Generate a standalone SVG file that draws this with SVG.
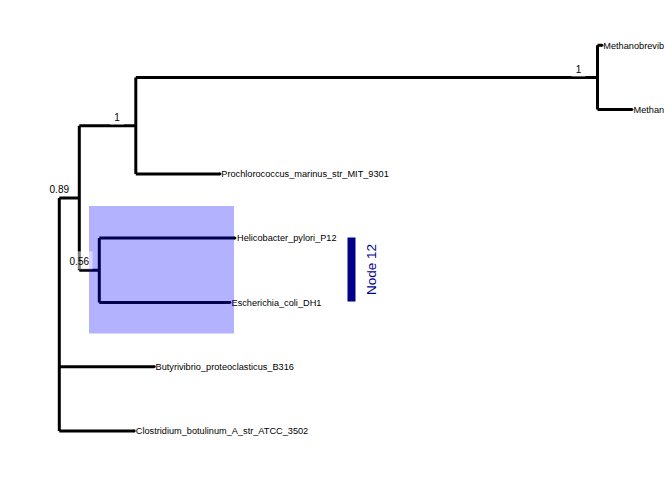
<svg xmlns="http://www.w3.org/2000/svg" width="672" height="480" viewBox="0 0 672 480">
<style>
.br{fill:none;stroke:#000;stroke-width:3;stroke-linecap:butt;stroke-linejoin:miter}
.tip{font-family:"Liberation Sans",Arial,sans-serif;font-size:9.2px;fill:#000}
.nl{font-family:"Liberation Sans",Arial,sans-serif;font-size:10px;fill:#000;text-anchor:middle}
.lbg{fill:#fff;fill-opacity:0.5}
.dot{fill:#000}
</style>
<defs>
<clipPath id="panel"><rect x="0" y="0" width="666" height="480"/></clipPath>
</defs>
<rect width="672" height="480" fill="#fff"/>
<g id="connectors" clip-path="url(#panel)">
<path class="br" d="M59.3,198 V431 M59.3,198 H79.3 M59.3,366.7 H154.3 M59.3,431 H134.3"/>
<path class="br" d="M79.3,125.7 V270.25 M79.3,125.7 H135.8 M79.3,270.25 H99.3"/>
<path class="br" d="M135.8,77.45 V173.9 M135.8,77.45 H597.5 M135.8,173.9 H220"/>
<path class="br" d="M597.5,45.3 V109.6 M597.5,45.3 H602 M597.5,109.6 H632"/>
<path class="br" d="M99.3,238.1 V302.4 M99.3,238.1 H235 M99.3,302.4 H230"/>
</g>
<g id="tips" clip-path="url(#panel)">
<g id="tip-methanobrevib"><circle class="dot" cx="602" cy="45.3" r="1.4"/><text class="tip" x="603.3" y="48.6">Methanobrevib</text></g>
<g id="tip-methan"><circle class="dot" cx="632" cy="109.6" r="1.4"/><text class="tip" x="633.5" y="112.9">Methan</text></g>
<g id="tip-prochlorococcus"><circle class="dot" cx="220" cy="173.9" r="1.4"/><text class="tip" x="221.3" y="177.2">Prochlorococcus_marinus_str_MIT_9301</text></g>
<g id="tip-helicobacter"><circle class="dot" cx="235" cy="238.1" r="1.4"/><text class="tip" x="237" y="241.4">Helicobacter_pylori_P12</text></g>
<g id="tip-escherichia"><circle class="dot" cx="230" cy="302.4" r="1.4"/><text class="tip" x="231.5" y="305.7">Escherichia_coli_DH1</text></g>
<g id="tip-butyrivibrio"><circle class="dot" cx="154.3" cy="366.7" r="1.4"/><text class="tip" x="155.5" y="370">Butyrivibrio_proteoclasticus_B316</text></g>
<g id="tip-clostridium"><circle class="dot" cx="134.3" cy="431" r="1.4"/><text class="tip" x="135.8" y="434.3">Clostridium_botulinum_A_str_ATCC_3502</text></g>
</g>
<g id="highlight">
<rect x="89" y="206" width="145" height="127.5" fill="#0000ff" fill-opacity="0.3"/>
</g>
<g id="node-labels">
<g id="label-root"><text class="nl" x="59.3" y="192.5">0.89</text></g>
<g id="label-056"><rect class="lbg" x="66" y="251.3" width="26.5" height="18"/><text class="nl" x="79.3" y="265.3">0.56</text></g>
<g id="label-1a"><rect class="lbg" x="110" y="107.5" width="14" height="17.2"/><text class="nl" x="117" y="120.7">1</text></g>
<g id="label-1b"><rect class="lbg" x="571.5" y="59.5" width="14" height="17.2"/><text class="nl" x="578.5" y="72.7">1</text></g>
</g>
<g id="clade-label">
<rect x="347.5" y="237.5" width="8" height="64" fill="#00008b"/>
<text x="375.5" y="269.5" transform="rotate(-90 375.5 269.5)" text-anchor="middle" font-family="'Liberation Sans',Arial,sans-serif" font-size="13.5px" fill="#00008b">Node 12</text>
</g>
</svg>
